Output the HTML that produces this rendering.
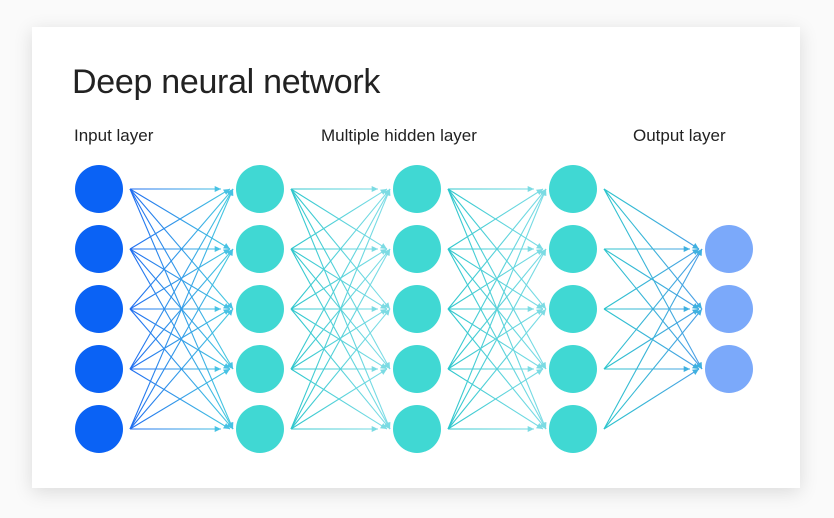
<!DOCTYPE html>
<html><head><style>
body{margin:0;width:834px;height:518px;background:#fafafa;overflow:hidden;font-family:"Liberation Sans",sans-serif}
#card{position:absolute;left:32px;top:27px;width:768px;height:461px;background:#fff;box-shadow:0 4px 18px rgba(0,0,0,0.13)}
.t{position:absolute;color:#222;white-space:nowrap}
svg{position:absolute;left:0;top:0}
</style></head><body>
<div id="card"></div>
<div class="t" style="left:72px;top:63px;font-size:34px;letter-spacing:-0.3px">Deep neural network</div>
<div class="t" style="left:74px;top:126px;font-size:17px;letter-spacing:0px">Input layer</div>
<div class="t" style="left:321px;top:126px;font-size:17px;letter-spacing:0px">Multiple hidden layer</div>
<div class="t" style="left:633px;top:126px;font-size:17px;letter-spacing:0px">Output layer</div>
<svg id="s" width="834" height="518" xmlns="http://www.w3.org/2000/svg">
<defs>
<linearGradient id="g1" gradientUnits="userSpaceOnUse" x1="130" y1="0" x2="228" y2="0"><stop offset="0" stop-color="#1f6cf0"/><stop offset="1" stop-color="#47c9e0"/></linearGradient>
<linearGradient id="g2" gradientUnits="userSpaceOnUse" x1="288" y1="0" x2="386" y2="0"><stop offset="0" stop-color="#2cc6cc"/><stop offset="1" stop-color="#7fdde6"/></linearGradient>
<linearGradient id="g3" gradientUnits="userSpaceOnUse" x1="446" y1="0" x2="544" y2="0"><stop offset="0" stop-color="#2cc6cc"/><stop offset="1" stop-color="#7fdde6"/></linearGradient>
<linearGradient id="g4" gradientUnits="userSpaceOnUse" x1="602" y1="0" x2="700" y2="0"><stop offset="0" stop-color="#2cc6cc"/><stop offset="1" stop-color="#4a9ee6"/></linearGradient>
</defs>
<g id="L"></g><g id="N"></g>
</svg>
<script>
var ns="http://www.w3.org/2000/svg",L=document.getElementById('L'),N=document.getElementById('N');
var ys5=[189,249,309,369,429],ys3=[249,309,369];
var layers=[{x:99,ys:ys5,c:"#0a62f5"},{x:260,ys:ys5,c:"#40d8d3"},{x:417,ys:ys5,c:"#40d8d3"},{x:573,ys:ys5,c:"#40d8d3"},{x:729,ys:ys3,c:"#7ba9fa"}];
function el(n,a,p){var e=document.createElementNS(ns,n);for(var k in a)e.setAttribute(k,a[k]);p.appendChild(e);return e;}
for(var i=0;i<4;i++){
 var A=layers[i],B=layers[i+1],g="url(#g"+(i+1)+")";
 var x1=A.x+31,x2e=B.x-33;
 A.ys.forEach(function(y1){B.ys.forEach(function(y2){
  var dy=y2-y1,x2=x2e-(dy==0?6:0)+Math.min(Math.abs(dy)/60,2)*3;
  el('line',{x1:x1,y1:y1,x2:x2,y2:y2,stroke:g,'stroke-width':1.1},L);
  var ang=Math.atan2(y2-y1,x2-x1),l=7,w=0.45;
  var p=[x2,y2,x2-l*Math.cos(ang-w),y2-l*Math.sin(ang-w),x2-l*Math.cos(ang+w),y2-l*Math.sin(ang+w)];
  el('polygon',{points:p.join(' '),fill:i==0?"#47c2e4":(i==3?"#3fb0e0":"#7cdbe3")},L);
 });});
}
layers.forEach(function(A){A.ys.forEach(function(y){el('circle',{cx:A.x,cy:y,r:24,fill:A.c},N);});});
</script>
</body></html>
